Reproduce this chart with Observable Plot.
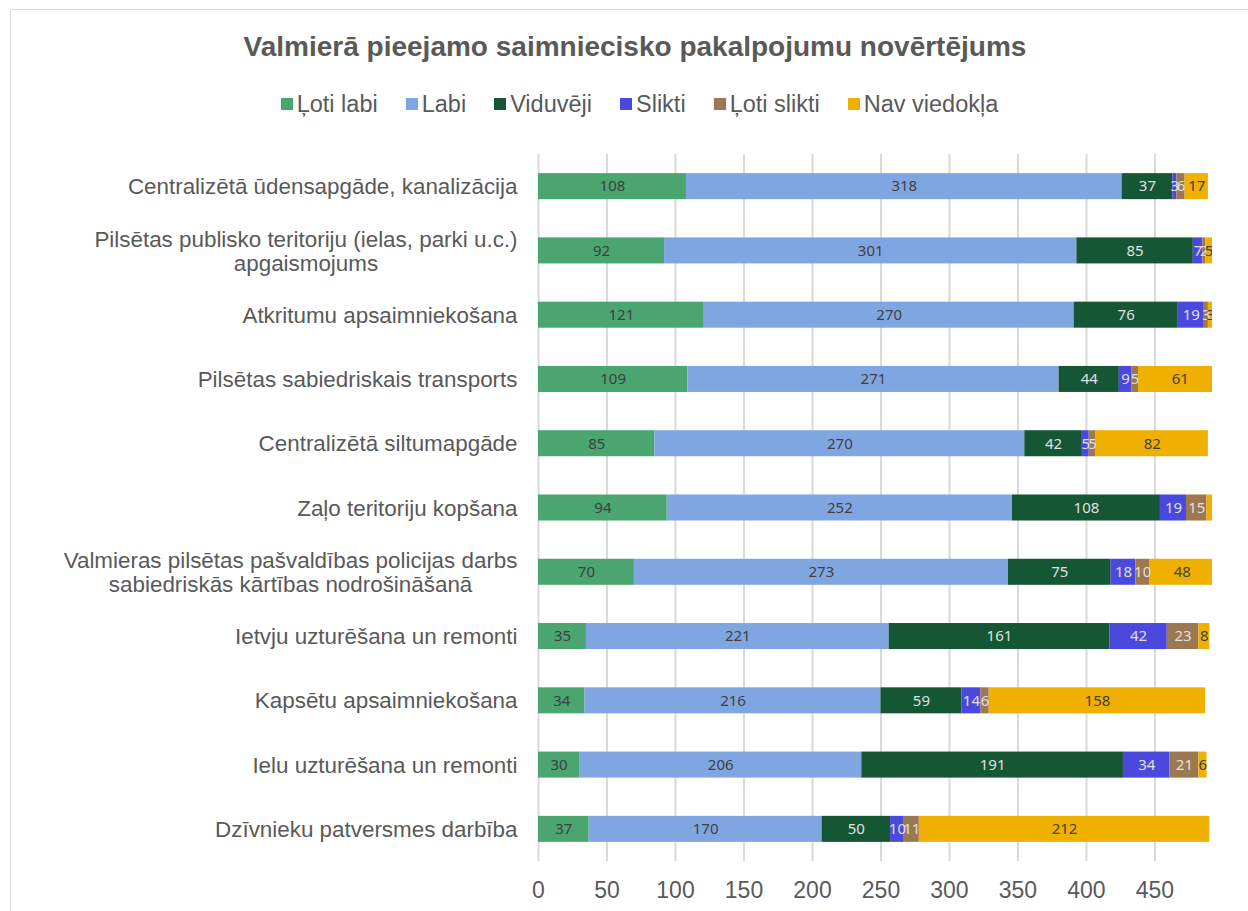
<!DOCTYPE html>
<html>
<head>
<meta charset="utf-8">
<script src="https://cdn.jsdelivr.net/npm/d3@7"></script>
<script src="https://cdn.jsdelivr.net/npm/@observablehq/plot@0.6"></script>
<style>
  html, body { margin: 0; padding: 0; background: #fff; overflow: hidden; width: 1248px; height: 911px; }
  #frame { position: absolute; left: 10px; top: 9px; width: 1300px; height: 1000px; border: 1px solid #d9d9d9; box-sizing: border-box; }
  #title { position: absolute; left: 0; width: 1270px; top: 30px; line-height: 34px; text-align: center; font-family: "Liberation Sans", Arial, sans-serif; font-weight: bold; font-size: 28px; color: #595959; }
  #legend { position: absolute; left: 0; width: 1279px; top: 90px; line-height: 28px; display: flex; justify-content: center; gap: 28px; font-family: "Liberation Sans", Arial, sans-serif; font-size: 23.5px; color: #595959; }
  .item { display: flex; align-items: center; gap: 4px; }
  .sw { width: 12px; height: 12px; display: inline-block; }
  #chart { position: absolute; left: 0; top: 130px; }
</style>
</head>
<body>
<div id="frame"></div>
<div id="title">Valmierā pieejamo saimniecisko pakalpojumu novērtējums</div>
<div id="legend"></div>
<div id="chart"></div>
<script>
const categories = [
  "Centralizētā ūdensapgāde, kanalizācija",
  "Pilsētas publisko teritoriju (ielas, parki u.c.)\napgaismojums",
  "Atkritumu apsaimniekošana",
  "Pilsētas sabiedriskais transports",
  "Centralizētā siltumapgāde",
  "Zaļo teritoriju kopšana",
  "Valmieras pilsētas pašvaldības policijas darbs\nsabiedriskās kārtības nodrošināšanā",
  "Ietvju uzturēšana un remonti",
  "Kapsētu apsaimniekošana",
  "Ielu uzturēšana un remonti",
  "Dzīvnieku patversmes darbība"
];
const seriesNames = ["Ļoti labi", "Labi", "Viduvēji", "Slikti", "Ļoti slikti", "Nav viedokļa"];
const lotiLabi    = [108, 92, 121, 109, 85, 94, 70, 35, 34, 30, 37];
const labi        = [318, 301, 270, 271, 270, 252, 273, 221, 216, 206, 170];
const viduveji    = [37, 85, 76, 44, 42, 108, 75, 161, 59, 191, 50];
const slikti      = [3, 7, 19, 9, 5, 19, 18, 42, 14, 34, 10];
const lotiSlikti  = [6, 2, 3, 5, 5, 15, 10, 23, 6, 21, 11];
const navViedokla = [17, 5, 3, 61, 82, 10, 48, 8, 158, 6, 212];
const xTicks = [0, 50, 100, 150, 200, 250, 300, 350, 400, 450];
const xMax = 492;

const colors = ["#4aa56f", "#80a6e2", "#155734", "#4b48de", "#9c7850", "#efb000"];
const labelColors = ["#404040", "#404040", "#e0e0e0", "#e0e0e0", "#e0e0e0", "#404040"];

const allSeries = [lotiLabi, labi, viduveji, slikti, lotiSlikti, navViedokla];
const data = [];
categories.forEach((c, i) => {
  let cum = 0;
  seriesNames.forEach((s, j) => {
    const v = allSeries[j][i];
    data.push({category: c, series: s, value: v, mid: cum + v / 2});
    cum += v;
  });
});

// Legend
const legend = document.getElementById("legend");
seriesNames.forEach((s, j) => {
  const it = document.createElement("div");
  it.className = "item";
  const sw = document.createElement("span");
  sw.className = "sw";
  sw.style.background = colors[j];
  const t = document.createElement("span");
  t.textContent = s;
  it.appendChild(sw); it.appendChild(t);
  legend.appendChild(it);
});

const plot = Plot.plot({
  width: 1248,
  height: 781,
  marginLeft: 538,
  marginRight: 36,
  marginTop: 24,
  marginBottom: 50,
  style: { fontFamily: "'Liberation Sans', Arial, sans-serif", background: "transparent" },
  x: { domain: [0, xMax] },
  y: { domain: categories, paddingInner: 0.595, paddingOuter: 0.2975, round: false },
  color: { domain: seriesNames, range: colors },
  marks: [
    Plot.gridX(xTicks, { stroke: "#d9d9d9", strokeOpacity: 1, strokeWidth: 2 }),
    Plot.barX(data, Plot.stackX({ x: "value", y: "category", fill: "series", clip: true })),
    Plot.text(data, Plot.stackX({
      x: "value", y: "category", z: "series", text: "value",
      filter: d => d.mid <= xMax,
      fill: d => labelColors[seriesNames.indexOf(d.series)],
      fontSize: 15, fontFamily: "'Noto Sans', sans-serif", clip: true
    })),
    Plot.axisX({ ticks: xTicks, tickSize: 0, tickPadding: 20, fontSize: 23, color: "#595959", label: null }),
    Plot.axisY({ tickSize: 0, tickPadding: 21, fontSize: 22.4, color: "#595959", label: null, lineHeight: 1.07 })
  ]
});
document.getElementById("chart").appendChild(plot);

// Center multi-line category labels (Excel style)
plot.querySelectorAll("text").forEach(t => {
  const spans = t.querySelectorAll("tspan");
  if (spans.length > 1) {
    let maxW = 0;
    spans.forEach(s => { maxW = Math.max(maxW, s.getComputedTextLength()); });
    t.setAttribute("text-anchor", "middle");
    spans.forEach(s => s.setAttribute("x", -maxW / 2));
  }
});
</script>
</body>
</html>
